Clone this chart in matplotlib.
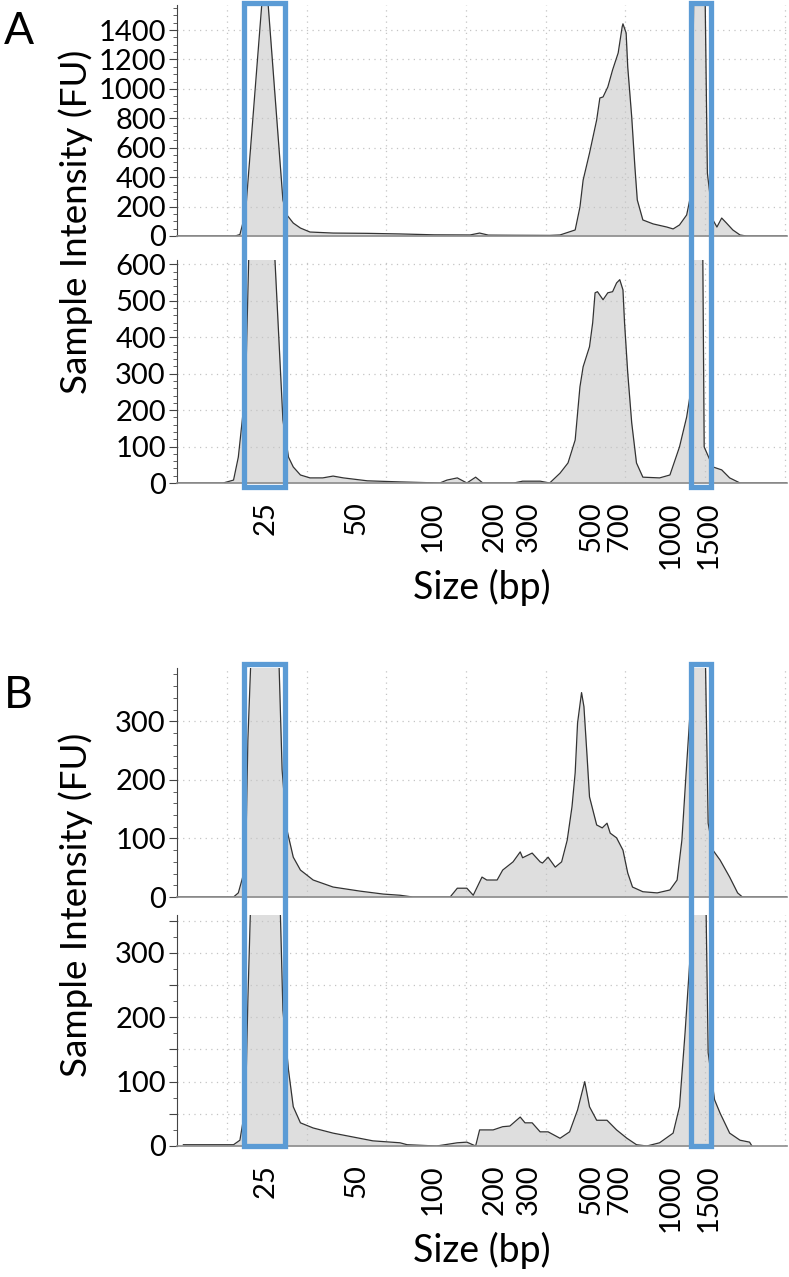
import matplotlib.pyplot as plt
import matplotlib.transforms as mtransforms
from matplotlib.patches import Rectangle
from matplotlib.ticker import FuncFormatter, MultipleLocator

# migration time (s) and fluorescence (FU)
A_TOP_T = [33.7, 41.0, 41.6, 42.3, 44.6, 44.9, 47.0, 47.5, 48.3, 49.2, 50.4,
           53.3, 57.6, 61.7, 66.0, 70.5, 71.7, 72.8, 76.0, 80.5, 81.8, 83.7,
           84.3, 84.7, 85.5, 86.4, 86.8, 87.2, 87.8, 88.4, 89.1, 89.6, 89.7,
           90.1, 90.3, 90.8, 91.2, 91.5, 92.2, 93.5, 95.2, 96.0, 96.8, 97.7,
           98.3, 98.6, 100.0, 100.3, 101.0, 101.5, 102.1, 102.7, 103.5, 104.4,
           105.2, 110.3]
A_TOP_FU = [0, 0, 10, 156, 1750, 1750, 245, 143, 88, 54, 27,
            20, 18, 14, 8, 7, 20, 6, 5, 4, 7, 41,
            197, 380, 563, 789, 938, 945, 1013, 1129, 1244, 1421, 1442,
            1380, 1149, 809, 469, 245, 109, 82, 61, 48, 75, 143,
            300, 1700, 1700, 428, 109, 61, 122, 88, 41, 7,
            0, 0]

A_BOT_T = [33.7, 39.5, 40.8, 41.4, 42.3, 42.8, 45.8, 47.0, 47.7, 48.3, 49.2,
           50.4, 52.0, 53.3, 54.6, 57.6, 61.7, 66.7, 67.6, 68.9, 70.1, 71.2,
           72.1, 76.0, 77.1, 79.3, 80.5, 81.8, 82.8, 83.7, 84.3, 84.7, 85.5,
           85.9, 86.2, 86.5, 87.2, 87.8, 88.4, 88.9, 89.3, 89.7, 89.9, 90.3,
           90.8, 91.4, 92.2, 94.3, 95.6, 96.8, 97.7, 98.2, 98.5, 99.7, 99.9,
           101.0, 102.1, 103.1, 104.4, 110.3]
A_BOT_FU = [0, 0, 8, 71, 255, 700, 700, 173, 71, 44, 22,
            14, 14, 19, 14, 6, 3, 0, 8, 14, 0, 16,
            0, 0, 5, 5, 0, 27, 55, 118, 264, 319, 374,
            440, 522, 525, 503, 522, 525, 549, 558, 530, 440, 302,
            165, 55, 16, 14, 22, 99, 181, 250, 700, 700, 99,
            44, 36, 14, 0, 0]

B_TOP_T = [33.7, 40.8, 41.4, 42.3, 42.6, 43.1, 46.4, 46.9, 47.5, 48.3, 49.2,
           50.8, 53.3, 56.7, 59.6, 61.7, 63.3, 68.0, 68.9, 70.1, 70.9, 72.0,
           72.6, 73.9, 74.6, 75.9, 76.8, 77.1, 78.3, 79.3, 79.6, 80.3, 81.2,
           82.0, 82.7, 83.3, 83.7, 84.0, 84.5, 84.8, 85.2, 85.5, 86.4, 87.1,
           87.7, 88.1, 88.9, 89.7, 90.3, 90.9, 92.2, 94.0, 95.6, 96.5, 97.1,
           97.6, 98.2, 98.5, 100.0, 100.4, 101.0, 101.9, 103.1, 104.1, 104.7,
           110.3]
B_TOP_FU = [0, 0, 7, 51, 268, 450, 450, 217, 115, 68, 46,
            29, 17, 10, 5, 3, 0, 0, 15, 15, 3, 34,
            29, 29, 46, 60, 77, 67, 75, 60, 58, 68, 51,
            60, 97, 154, 212, 297, 349, 325, 239, 171, 123, 118,
            126, 109, 101, 80, 41, 17, 9, 7, 12, 29, 97,
            205, 330, 450, 450, 126, 80, 63, 34, 7, 0,
            0]

B_BOT_T = [34.5, 40.8, 41.6, 42.3, 42.6, 43.0, 46.6, 47.0, 47.7, 48.3, 49.2,
           50.8, 53.3, 55.8, 58.3, 61.7, 62.6, 66.3, 68.9, 70.1, 71.2, 71.7,
           73.4, 74.6, 75.5, 76.8, 77.4, 78.3, 79.3, 80.3, 81.8, 83.0, 84.0,
           84.9, 85.5, 86.4, 87.7, 88.9, 90.2, 91.4, 92.7, 94.3, 96.0, 96.8,
           97.5, 97.8, 98.7, 100.1, 100.4, 101.2, 101.9, 103.1, 104.4, 105.6,
           105.9]
B_BOT_FU = [2, 2, 9, 61, 227, 400, 400, 211, 118, 61, 36,
            28, 20, 14, 8, 5, 2, 0, 5, 6, 0, 25,
            25, 30, 31, 45, 36, 36, 22, 22, 12, 22, 56,
            100, 61, 40, 40, 25, 12, 2, 0, 5, 20, 61,
            176, 232, 400, 400, 145, 72, 51, 20, 9, 6,
            0]

# ladder sizes (bp) and where they sit on the time axis
SIZE_LABELS = ["25", "50", "100", "200", "300", "500", "700", "1000", "1500"]
SIZE_TIMES = [44.8, 56.2, 65.8, 73.6, 77.9, 85.7, 89.3, 95.7, 100.4]

# lower / upper marker windows (s)
MARKER_WINDOWS = [(42.1, 47.2), (98.2, 100.7)]

FILL_COLOR = "#dedede"
LINE_COLOR = "#333333"
BOX_COLOR = "#5b9bd5"
GRID_COLOR = "#c4c4c4"

plt.rcParams.update({
    "font.family": ["Lato", "DejaVu Sans"],
    "font.size": 20,
})

W, H = 789, 1277
fig = plt.figure(figsize=(W / 100, H / 100), dpi=100)


def px_axes(top, bottom, left=177, right=787):
    return fig.add_axes([left / W, 1 - bottom / H, (right - left) / W,
                         (bottom - top) / H])


def trace(ax, t, fu, ymax, major, minor, label_step=None):
    ax.fill_between(t, fu, color=FILL_COLOR, lw=0)
    ax.plot(t, fu, color=LINE_COLOR, lw=0.9)
    ax.set_xlim(33.7, 110.3)
    ax.set_ylim(0, ymax)
    ax.yaxis.set_major_locator(MultipleLocator(major))
    ax.yaxis.set_minor_locator(MultipleLocator(minor))
    if label_step:
        ax.yaxis.set_major_formatter(FuncFormatter(
            lambda v, _: f"{v:.0f}" if v % label_step == 0 else ""))
    ax.xaxis.set_major_locator(MultipleLocator(10))
    ax.grid(True, which="major", color=GRID_COLOR, lw=0.9,
            linestyle=(0, (1, 3.5)))
    for s in ("top", "right"):
        ax.spines[s].set_visible(False)
    ax.spines["left"].set_color("#444444")
    ax.spines["bottom"].set_color("#8c8c8c")
    ax.spines["bottom"].set_linewidth(1.2)
    ax.tick_params(axis="y", which="major", length=6, color="#444444",
                   labelsize=21, pad=2)
    ax.tick_params(axis="y", which="minor", length=3, color="#444444")
    ax.tick_params(axis="x", which="both", length=0, labelbottom=False)


def size_axis(ax):
    # second x axis carrying the ladder sizes, no grid
    sec = ax.secondary_xaxis("bottom")
    sec.set_xticks(SIZE_TIMES)
    sec.set_xticklabels(SIZE_LABELS, rotation=90, fontsize=21)
    sec.tick_params(length=0, pad=13)
    sec.spines["bottom"].set_visible(False)
    sec.set_xlabel("Size (bp)", fontsize=27, labelpad=0)


def marker_boxes(ax, y_top, y_bot):
    tr = mtransforms.blended_transform_factory(ax.transData, fig.transFigure)
    for x0, x1 in MARKER_WINDOWS:
        fig.add_artist(Rectangle((x0, 1 - y_bot / H), x1 - x0,
                                 (y_bot - y_top) / H, transform=tr,
                                 fill=False, ec=BOX_COLOR, lw=3.8,
                                 clip_on=False, zorder=10))


ax_a1 = px_axes(5, 236)
trace(ax_a1, A_TOP_T, A_TOP_FU, 1570, 200, 50)
ax_a2 = px_axes(260, 483)
trace(ax_a2, A_BOT_T, A_BOT_FU, 612, 100, 20)
size_axis(ax_a2)

ax_b1 = px_axes(668, 897)
trace(ax_b1, B_TOP_T, B_TOP_FU, 391, 100, 20)
ax_b2 = px_axes(915, 1146)
trace(ax_b2, B_BOT_T, B_BOT_FU, 359, 50, 25, label_step=100)
size_axis(ax_b2)

marker_boxes(ax_a1, 2.5, 486.5)
marker_boxes(ax_b1, 663.5, 1146)

for yc in (222, 905):
    fig.text(76 / W, 1 - yc / H, "Sample Intensity (FU)", rotation=90,
             ha="center", va="center", fontsize=26.5)
fig.text(4 / W, 1 - 32 / H, "A", ha="left", va="center", fontsize=32)
fig.text(4 / W, 1 - 695 / H, "B", ha="left", va="center", fontsize=32)

fig.savefig("out.png", dpi=100)
